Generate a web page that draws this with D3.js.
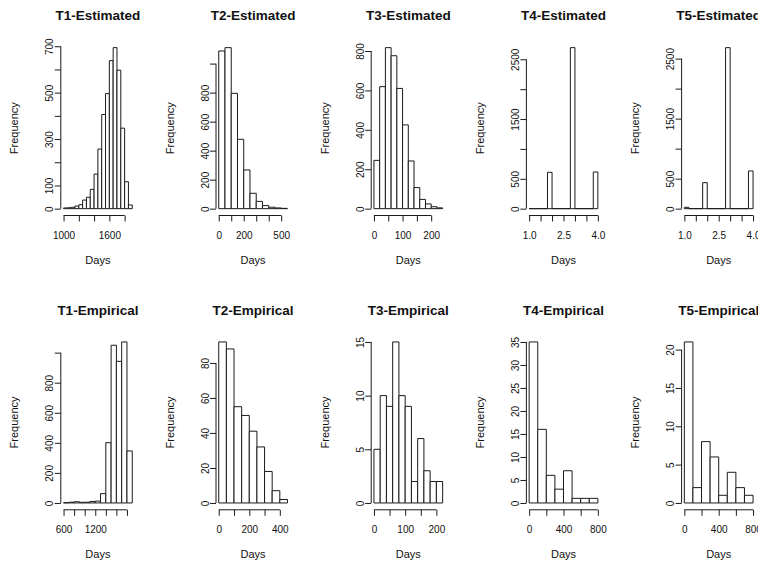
<!DOCTYPE html>
<html>
<head>
<meta charset="utf-8">
<script src="https://cdn.jsdelivr.net/npm/d3@7"></script>
<style>
  body { margin: 0; background: #fff; }
  svg { display: block; }
  text { font-family: "Liberation Sans", Arial, Helvetica, sans-serif; fill: #111; }
</style>
</head>
<body>
<svg id="chart" width="758" height="565"></svg>
<script>
// Panel titles, in reading order (two rows of five)
const panelTitles = [
  "T1-Estimated", "T2-Estimated", "T3-Estimated", "T4-Estimated", "T5-Estimated",
  "T1-Empirical", "T2-Empirical", "T3-Empirical", "T4-Empirical", "T5-Empirical"
];

// Histogram bins: left edge of the first bin and bin width, per panel
const binStarts = [1000, 0, 0, 1.0, 1.0, 600, 0, 0, 0, 0];
const binWidths = [50, 50, 20, 0.2, 0.2, 100, 50, 20, 100, 100];

// Bin counts
const t1EstCounts = [3, 4, 6, 11, 17, 37, 49, 83, 149, 257, 406, 496, 638, 694, 597, 347, 116, 16];
const t2EstCounts = [1087, 1110, 795, 478, 267, 106, 50, 21, 10, 5, 2];
const t3EstCounts = [245, 619, 817, 776, 610, 425, 242, 107, 47, 24, 10, 4];
const t4EstCounts = [0, 0, 0, 0, 608, 0, 0, 0, 0, 2695, 0, 0, 0, 0, 614];
const t5EstCounts = [22, 0, 0, 0, 433, 0, 0, 0, 0, 2683, 0, 0, 0, 0, 628];
const t1EmpCounts = [2, 5, 8, 4, 5, 10, 12, 62, 401, 1049, 942, 1071, 346];
const t2EmpCounts = [92, 88, 55, 50, 41, 32, 18, 7, 2];
const t3EmpCounts = [5, 10, 9, 15, 10, 9, 2, 6, 3, 2, 2];
const t4EmpCounts = [35, 16, 6, 3, 7, 1, 1, 1];
const t5EmpCounts = [21, 2, 8, 6, 1, 4, 2, 1];

const panelCounts = [
  t1EstCounts, t2EstCounts, t3EstCounts, t4EstCounts, t5EstCounts,
  t1EmpCounts, t2EmpCounts, t3EmpCounts, t4EmpCounts, t5EmpCounts
];

// Axis ticks and the subset of ticks that carry a label
const xTicks = [
  [1000, 1200, 1400, 1600, 1800],
  [0, 100, 200, 300, 400, 500],
  [0, 50, 100, 150, 200],
  [1.0, 1.5, 2.0, 2.5, 3.0, 3.5, 4.0],
  [1.0, 1.5, 2.0, 2.5, 3.0, 3.5, 4.0],
  [600, 800, 1000, 1200, 1400, 1600, 1800],
  [0, 100, 200, 300, 400],
  [0, 50, 100, 150, 200],
  [0, 200, 400, 600, 800],
  [0, 200, 400, 600, 800]
];
const xTickLabels = [
  [1000, 1600],
  [0, 200, 500],
  [0, 100, 200],
  [1.0, 2.5, 4.0],
  [1.0, 2.5, 4.0],
  [600, 1200],
  [0, 200, 400],
  [0, 100, 200],
  [0, 400, 800],
  [0, 400, 800]
];
const yTicks = [
  [0, 100, 200, 300, 400, 500, 600, 700],
  [0, 200, 400, 600, 800, 1000],
  [0, 200, 400, 600, 800],
  [0, 500, 1000, 1500, 2000, 2500],
  [0, 500, 1000, 1500, 2000, 2500],
  [0, 200, 400, 600, 800, 1000],
  [0, 20, 40, 60, 80],
  [0, 5, 10, 15],
  [0, 5, 10, 15, 20, 25, 30, 35],
  [0, 5, 10, 15, 20]
];
const yTickLabels = [
  [0, 100, 300, 500, 700],
  [0, 200, 400, 600, 800],
  [0, 200, 400, 600, 800],
  [0, 500, 1500, 2500],
  [0, 500, 1500, 2500],
  [0, 200, 400, 600, 800],
  [0, 20, 40, 60, 80],
  [0, 5, 10, 15],
  [0, 5, 10, 15, 20, 25, 30, 35],
  [0, 5, 10, 15, 20]
];
const xDecimals = [0, 0, 0, 1, 1, 0, 0, 0, 0, 0];

const xAxisTitle = "Days";
const yAxisTitle = "Frequency";

// Layout of the 2 x 5 grid
const cellW = 155.2, cellH = 294.3;
const plotLeft0 = 60.8, plotTop0 = 41.2;
const plotW = 74.2, plotH = 173.9;
const ink = "#1a1a1a";

const svg = d3.select("#chart");

// R-style 4% padding on each side of a data range
function padded(lo, hi) {
  const p = (hi - lo) * 0.04;
  return [lo - p, hi + p];
}

panelCounts.forEach((counts, i) => {
  const col = i % 5, row = Math.floor(i / 5);
  const left = plotLeft0 + col * cellW;
  const top = plotTop0 + row * cellH;
  const bottom = top + plotH;

  const start = binStarts[i], width = binWidths[i];
  const bins = counts.map((c, k) => ({ x0: start + k * width, x1: start + (k + 1) * width, n: c }));
  const xMin = bins[0].x0, xMax = bins[bins.length - 1].x1;

  const x = d3.scaleLinear().domain(padded(xMin, xMax)).range([left, left + plotW]);
  const y = d3.scaleLinear().domain(padded(0, d3.max(counts))).range([bottom, top]);

  const g = svg.append("g");

  // Bars (paths so that empty bins still show as a line on the baseline)
  g.selectAll("path.bar").data(bins).join("path")
    .attr("class", "bar")
    .attr("d", b => `M${x(b.x0)},${y(0)}V${y(b.n)}H${x(b.x1)}V${y(0)}Z`)
    .attr("fill", "#fff")
    .attr("stroke", ink)
    .attr("stroke-width", 1);

  const fmt = xDecimals[i] ? d3.format(".1f") : d3.format("d");
  const xLabSet = new Set(xTickLabels[i].map(v => +v.toFixed(3)));
  const yLabSet = new Set(yTickLabels[i]);

  // X axis, line spans the first to last tick
  const xAxisY = bottom + 0.4;
  const xg = g.append("g").attr("transform", `translate(0,${xAxisY})`)
    .call(d3.axisBottom(x).tickValues(xTicks[i]).tickSize(6).tickPadding(10)
      .tickFormat(d => xLabSet.has(+d.toFixed(3)) ? fmt(d) : ""));
  xg.select(".domain").remove();
  xg.append("line")
    .attr("x1", x(xTicks[i][0])).attr("x2", x(xTicks[i][xTicks[i].length - 1]))
    .attr("stroke", ink);
  xg.selectAll(".tick line").attr("stroke", ink);
  xg.selectAll(".tick text").attr("font-size", 10).attr("fill", ink)
    .attr("font-family", '"Liberation Sans", Arial, sans-serif');

  // Y axis with labels written parallel to the axis
  const yg = g.append("g").attr("transform", `translate(${left},0)`)
    .call(d3.axisLeft(y).tickValues(yTicks[i]).tickSize(6).tickFormat(d => d));
  yg.select(".domain").remove();
  yg.append("line")
    .attr("y1", y(yTicks[i][0])).attr("y2", y(yTicks[i][yTicks[i].length - 1]))
    .attr("stroke", ink);
  yg.selectAll(".tick line").attr("stroke", ink);
  yg.selectAll(".tick text")
    .text(d => yLabSet.has(d) ? d : "")
    .attr("x", null).attr("dy", null)
    .attr("text-anchor", "middle")
    .attr("transform", "translate(-7.5,0) rotate(-90)")
    .attr("font-size", 10).attr("fill", ink)
    .attr("font-family", '"Liberation Sans", Arial, sans-serif');

  // Titles
  g.append("text")
    .attr("x", left + plotW / 2).attr("y", top - 21)
    .attr("text-anchor", "middle")
    .attr("font-weight", "bold").attr("font-size", 13.5)
    .text(panelTitles[i]);

  g.append("text")
    .attr("x", left + plotW / 2).attr("y", bottom + 49)
    .attr("text-anchor", "middle").attr("font-size", 11)
    .text(xAxisTitle);

  g.append("text")
    .attr("transform", `translate(${left - 42.5},${top + plotH / 2}) rotate(-90)`)
    .attr("text-anchor", "middle").attr("font-size", 11)
    .text(yAxisTitle);
});
</script>
</body>
</html>
